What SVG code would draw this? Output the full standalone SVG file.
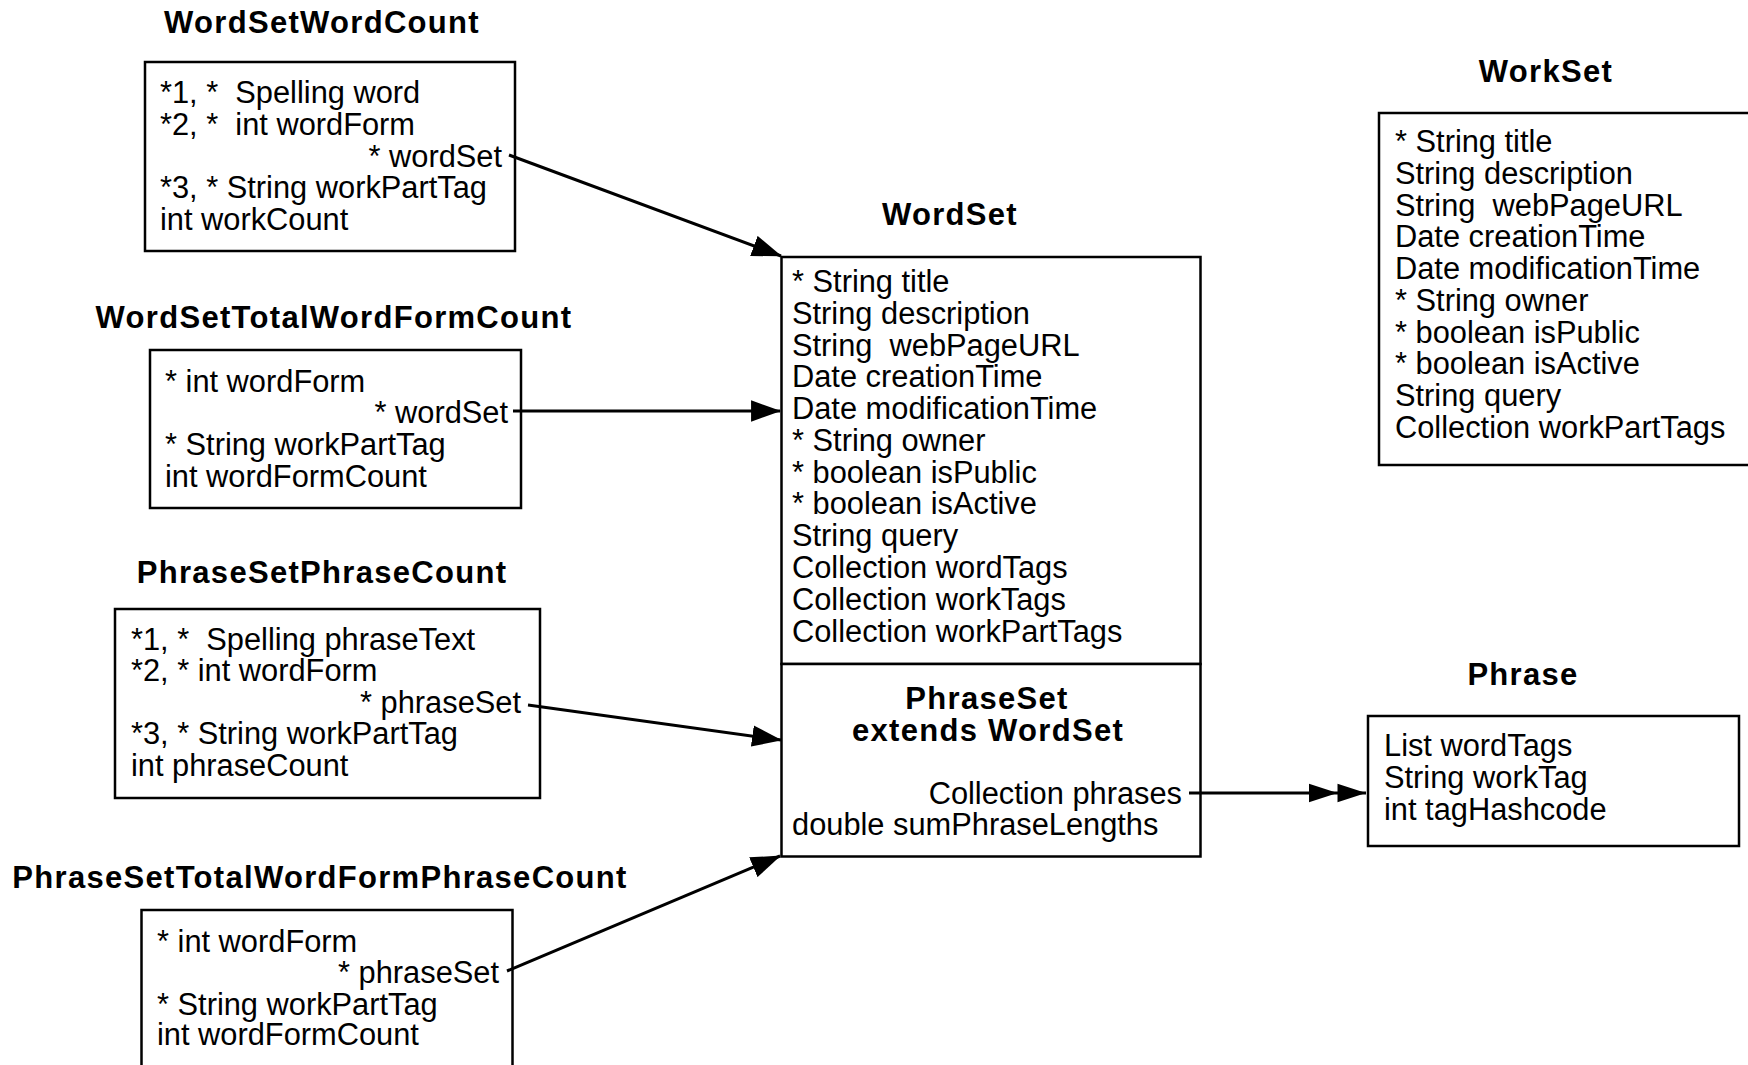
<svg xmlns="http://www.w3.org/2000/svg" width="1748" height="1065" viewBox="0 0 1748 1065">
<style>
  text { font-family: "Liberation Sans", Arial, Helvetica, sans-serif; fill: #000; }
  .t { font-size: 30.8px; }
  .h { font-size: 31px; font-weight: bold; letter-spacing: 1.3px; text-anchor: middle; }
  .r { text-anchor: end; }
  .box { fill: #fff; stroke: #000; stroke-width: 2.5; }
  .conn { fill: none; stroke: #000; stroke-width: 3; }
</style>
<defs>
  <marker id="arrow" markerUnits="userSpaceOnUse" markerWidth="30" markerHeight="22" viewBox="0 0 28 20" refX="27" refY="10" orient="auto">
    <path d="M0,0 L28,10 L0,20 Z" fill="#000"/>
  </marker>
  <marker id="arrow2" markerUnits="userSpaceOnUse" markerWidth="58" markerHeight="20" viewBox="0 0 57 18" refX="56" refY="9" orient="auto">
    <path d="M0,0 L28,9 L0,18 Z M28,0 L56,9 L28,18 Z" fill="#000"/>
  </marker>
</defs>
<rect width="1748" height="1065" fill="#fff"/>

<g id="WordSetWordCount">
  <text class="h" x="322" y="33">WordSetWordCount</text>
  <rect class="box" x="145" y="62" width="370" height="189"/>
  <text class="t" x="160" y="103">*1, *&#160; Spelling word</text>
  <text class="t" x="160" y="135">*2, *&#160; int wordForm</text>
  <text class="t r" x="502" y="167">* wordSet</text>
  <text class="t" x="160" y="198">*3, * String workPartTag</text>
  <text class="t" x="160" y="230">int workCount</text>
</g>

<g id="WordSetTotalWordFormCount">
  <text class="h" x="334" y="328">WordSetTotalWordFormCount</text>
  <rect class="box" x="150" y="350" width="371" height="158"/>
  <text class="t" x="165" y="392">* int wordForm</text>
  <text class="t r" x="508" y="423">* wordSet</text>
  <text class="t" x="165" y="455">* String workPartTag</text>
  <text class="t" x="165" y="487">int wordFormCount</text>
</g>

<g id="PhraseSetPhraseCount">
  <text class="h" x="322" y="583">PhraseSetPhraseCount</text>
  <rect class="box" x="115" y="609" width="425" height="189"/>
  <text class="t" x="131" y="650">*1, *&#160; Spelling phraseText</text>
  <text class="t" x="131" y="681">*2, * int wordForm</text>
  <text class="t r" x="521" y="713">* phraseSet</text>
  <text class="t" x="131" y="744">*3, * String workPartTag</text>
  <text class="t" x="131" y="776">int phraseCount</text>
</g>

<g id="PhraseSetTotalWordFormPhraseCount">
  <text class="h" x="320" y="888">PhraseSetTotalWordFormPhraseCount</text>
  <rect class="box" x="141.5" y="910" width="371" height="200"/>
  <text class="t" x="157" y="952">* int wordForm</text>
  <text class="t r" x="499" y="983">* phraseSet</text>
  <text class="t" x="157" y="1015">* String workPartTag</text>
  <text class="t" x="157" y="1045">int wordFormCount</text>
</g>

<g id="WordSet">
  <text class="h" x="950" y="225">WordSet</text>
  <rect class="box" x="781.5" y="257" width="419" height="407"/>
  <text class="t" x="792" y="292">* String title</text>
  <text class="t" x="792" y="324">String description</text>
  <text class="t" x="792" y="356">String&#160; webPageURL</text>
  <text class="t" x="792" y="387">Date creationTime</text>
  <text class="t" x="792" y="419">Date modificationTime</text>
  <text class="t" x="792" y="451">* String owner</text>
  <text class="t" x="792" y="483">* boolean isPublic</text>
  <text class="t" x="792" y="514">* boolean isActive</text>
  <text class="t" x="792" y="546">String query</text>
  <text class="t" x="792" y="578">Collection wordTags</text>
  <text class="t" x="792" y="610">Collection workTags</text>
  <text class="t" x="792" y="642">Collection workPartTags</text>
</g>

<g id="PhraseSet">
  <rect class="box" x="781.5" y="664" width="419" height="192.5"/>
  <text class="h" x="987" y="709">PhraseSet</text>
  <text class="h" x="988" y="741">extends WordSet</text>
  <text class="t r" x="1182" y="804">Collection phrases</text>
  <text class="t" x="792" y="835">double sumPhraseLengths</text>
</g>

<g id="WorkSet">
  <text class="h" x="1546" y="82">WorkSet</text>
  <rect class="box" x="1379" y="113" width="420" height="352"/>
  <text class="t" x="1395" y="152">* String title</text>
  <text class="t" x="1395" y="184">String description</text>
  <text class="t" x="1395" y="216">String&#160; webPageURL</text>
  <text class="t" x="1395" y="247">Date creationTime</text>
  <text class="t" x="1395" y="279">Date modificationTime</text>
  <text class="t" x="1395" y="311">* String owner</text>
  <text class="t" x="1395" y="343">* boolean isPublic</text>
  <text class="t" x="1395" y="374">* boolean isActive</text>
  <text class="t" x="1395" y="406">String query</text>
  <text class="t" x="1395" y="438">Collection workPartTags</text>
</g>

<g id="Phrase">
  <text class="h" x="1523" y="685">Phrase</text>
  <rect class="box" x="1368" y="716" width="371" height="130"/>
  <text class="t" x="1384" y="756">List wordTags</text>
  <text class="t" x="1384" y="788">String workTag</text>
  <text class="t" x="1384" y="820">int tagHashcode</text>
</g>

<g id="connectors">
  <line class="conn" x1="509" y1="155" x2="781" y2="256" marker-end="url(#arrow)"/>
  <line class="conn" x1="513" y1="411" x2="780" y2="411" marker-end="url(#arrow)"/>
  <line class="conn" x1="528" y1="705" x2="781" y2="740" marker-end="url(#arrow)"/>
  <line class="conn" x1="507" y1="971" x2="780" y2="856" marker-end="url(#arrow)"/>
  <line class="conn" x1="1189" y1="793" x2="1366" y2="793" marker-end="url(#arrow2)"/>
</g>
</svg>
